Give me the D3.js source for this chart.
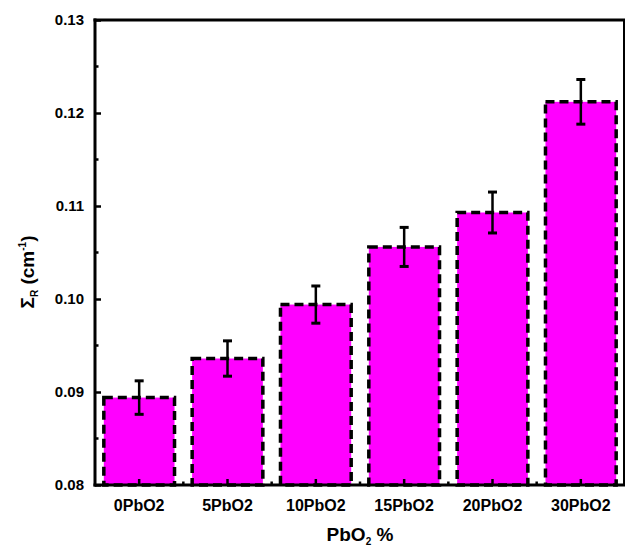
<!DOCTYPE html>
<html>
<head>
<meta charset="utf-8">
<script src="https://cdn.jsdelivr.net/npm/d3@7"></script>
<style>
  body { margin: 0; background: #fff; }
  text { font-family: "Liberation Sans", Arial, sans-serif; font-weight: bold; fill: #000; }
</style>
</head>
<body>
<script>
// data
var categories = ["0PbO2", "5PbO2", "10PbO2", "15PbO2", "20PbO2", "30PbO2"];
var values = [0.0894, 0.0936, 0.0994, 0.1056, 0.1093, 0.1212];
var errors = [0.0018, 0.0019, 0.0020, 0.0021, 0.0022, 0.0024];
var yTicks = [0.08, 0.09, 0.10, 0.11, 0.12, 0.13];
var yMinorTicks = [0.085, 0.095, 0.105, 0.115, 0.125];

var svgWidth = 627;
var svgHeight = 549;
var margin = { top: 20, right: 2, bottom: 64, left: 95 };
var width = svgWidth - margin.left - margin.right;
var height = svgHeight - margin.top - margin.bottom;

var svg = d3.select("body")
    .append("svg")
    .attr("width", svgWidth)
    .attr("height", svgHeight);

var chartGroup = svg.append("g")
    .attr("transform", `translate(${margin.left}, ${margin.top})`);

var xScale = d3.scaleBand()
    .domain(categories)
    .range([0, width])
    .paddingInner(0.16)
    .paddingOuter(0.08);

var yScale = d3.scaleLinear()
    .domain([0.08, 0.13])
    .range([height, 0]);

// bars
chartGroup.selectAll(".bar")
    .data(values)
    .enter()
    .append("rect")
    .attr("class", "bar")
    .attr("x", (d, i) => xScale(categories[i]) + 1.75)
    .attr("y", d => yScale(d))
    .attr("width", xScale.bandwidth() - 3.5)
    .attr("height", d => height - yScale(d))
    .attr("fill", "#ff00ff")
    .attr("stroke", "#000")
    .attr("stroke-width", 3.5)
    .attr("stroke-dasharray", "9,5");

// error bars
var errGroup = chartGroup.selectAll(".err")
    .data(values)
    .enter()
    .append("g")
    .attr("class", "err")
    .attr("transform", (d, i) => `translate(${xScale(categories[i]) + xScale.bandwidth() / 2}, 0)`);

errGroup.append("line")
    .attr("y1", (d, i) => yScale(d + errors[i]))
    .attr("y2", (d, i) => yScale(d - errors[i]))
    .attr("stroke", "#000")
    .attr("stroke-width", 2.5);

errGroup.append("line")
    .attr("x1", -4.5).attr("x2", 4.5)
    .attr("y1", (d, i) => yScale(d + errors[i]))
    .attr("y2", (d, i) => yScale(d + errors[i]))
    .attr("stroke", "#000")
    .attr("stroke-width", 3);

errGroup.append("line")
    .attr("x1", -4.5).attr("x2", 4.5)
    .attr("y1", (d, i) => yScale(d - errors[i]))
    .attr("y2", (d, i) => yScale(d - errors[i]))
    .attr("stroke", "#000")
    .attr("stroke-width", 3);

// left axis, ticks pointing in
var leftAxis = d3.axisLeft(yScale)
    .tickValues(yTicks)
    .tickFormat(d3.format(".2f"))
    .tickSize(-6)
    .tickPadding(11);

var yAxisG = chartGroup.append("g").call(leftAxis);
yAxisG.select(".domain").remove();
yAxisG.selectAll(".tick line").attr("stroke-width", 2.5);
yAxisG.selectAll("text").style("font-size", "15px").attr("fill", "#000");

chartGroup.selectAll(".yminor")
    .data(yMinorTicks)
    .enter()
    .append("line")
    .attr("x1", 0).attr("x2", 3.5)
    .attr("y1", d => yScale(d)).attr("y2", d => yScale(d))
    .attr("stroke", "#000")
    .attr("stroke-width", 2.5);

// bottom axis, ticks pointing in
var bottomAxis = d3.axisBottom(xScale)
    .tickSize(-6)
    .tickPadding(15);

var xAxisG = chartGroup.append("g")
    .attr("transform", `translate(0, ${height})`)
    .call(bottomAxis);
xAxisG.select(".domain").remove();
xAxisG.selectAll(".tick line").attr("stroke-width", 2.5);
xAxisG.selectAll("text").style("font-size", "16px").attr("fill", "#000");

// minor ticks between bars
chartGroup.selectAll(".xminor")
    .data(categories.slice(1))
    .enter()
    .append("line")
    .attr("x1", d => xScale(d) - xScale.step() * xScale.paddingInner() / 2)
    .attr("x2", d => xScale(d) - xScale.step() * xScale.paddingInner() / 2)
    .attr("y1", height).attr("y2", height - 3.5)
    .attr("stroke", "#000")
    .attr("stroke-width", 2.5);

// frame
chartGroup.append("line").attr("x1", 0).attr("x2", 0).attr("y1", -1.5).attr("y2", height + 1.5)
    .attr("stroke", "#000").attr("stroke-width", 3);
chartGroup.append("line").attr("x1", -1.5).attr("x2", width).attr("y1", height).attr("y2", height)
    .attr("stroke", "#000").attr("stroke-width", 3);
chartGroup.append("line").attr("x1", -1.5).attr("x2", width).attr("y1", 0).attr("y2", 0)
    .attr("stroke", "#000").attr("stroke-width", 3);
chartGroup.append("line").attr("x1", width - 1).attr("x2", width - 1).attr("y1", 0).attr("y2", height)
    .attr("stroke", "#000").attr("stroke-width", 2);

// x axis title
var xTitle = svg.append("text")
    .attr("x", margin.left + width / 2)
    .attr("y", 541)
    .attr("text-anchor", "middle")
    .style("font-size", "19px");
xTitle.append("tspan").text("PbO");
xTitle.append("tspan").attr("dy", 4).style("font-size", "10px").text("2");
xTitle.append("tspan").attr("dy", -4).text(" %");

// y axis title
var yTitle = svg.append("text")
    .attr("transform", `translate(34, 272) rotate(-90)`)
    .attr("text-anchor", "middle")
    .style("font-size", "19px");
yTitle.append("tspan").text("\u03A3");
yTitle.append("tspan").attr("dy", 4).style("font-size", "10px").text("R");
yTitle.append("tspan").attr("dy", -4).text(" (cm");
yTitle.append("tspan").attr("dy", -8).style("font-size", "10px").text("-1");
yTitle.append("tspan").attr("dy", 8).text(")");
</script>
</body>
</html>
